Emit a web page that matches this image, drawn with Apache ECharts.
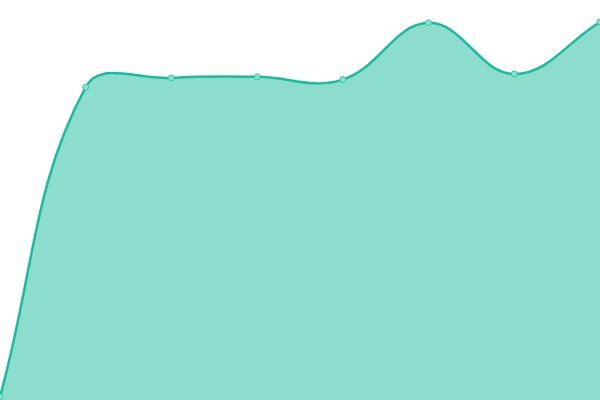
<!DOCTYPE html>
<html>
<head>
<meta charset="utf-8">
<script src="https://cdn.jsdelivr.net/npm/echarts@6/dist/echarts.min.js"></script>
<style>
  html, body { margin: 0; padding: 0; background: #fff; }
  #main { width: 600px; height: 400px; }
</style>
</head>
<body>
<div id="main"></div>
<script>
var categories = ['1', '2', '3', '4', '5', '6', '7', '8'];
var values = [0.8, 78.2, 80.5, 80.8, 80.1, 94.3, 81.5, 94.5];

var lineColor = '#1abc9c';

// spline with tension, control points weighted by neighbouring segment lengths
function splinePath(pts, tension, box) {
  var cps = pts.map(function (p, i) {
    var prev = pts[i - 1] || p, next = pts[i + 1] || p;
    var d01 = Math.hypot(p[0] - prev[0], p[1] - prev[1]);
    var d12 = Math.hypot(next[0] - p[0], next[1] - p[1]);
    var s01 = d01 / (d01 + d12), s12 = d12 / (d01 + d12);
    var fa = tension * s01, fb = tension * s12;
    var vx = next[0] - prev[0], vy = next[1] - prev[1];
    function cap(x, y) {
      return [Math.min(Math.max(x, box[0]), box[2]), Math.min(Math.max(y, box[1]), box[3])];
    }
    return {
      inc: cap(p[0] - fa * vx, p[1] - fa * vy),
      out: cap(p[0] + fb * vx, p[1] + fb * vy)
    };
  });
  var d = 'M' + pts[0][0] + ' ' + pts[0][1];
  for (var i = 1; i < pts.length; i++) {
    var a = cps[i - 1].out, b = cps[i].inc, p = pts[i];
    d += ' C' + a[0] + ' ' + a[1] + ' ' + b[0] + ' ' + b[1] + ' ' + p[0] + ' ' + p[1];
  }
  return d;
}

var chart = echarts.init(document.getElementById('main'));
chart.setOption({
  animation: false,
  grid: { left: 0, right: 0, top: 0, bottom: 0 },
  xAxis: {
    type: 'category',
    boundaryGap: false,
    data: categories,
    show: false
  },
  yAxis: {
    type: 'value',
    min: 0,
    max: 100,
    show: false
  },
  series: [
    {
      type: 'custom',
      data: [0],
      silent: true,
      z: 1,
      renderItem: function (params, api) {
        if (params.dataIndex !== 0) return;
        var pts = values.map(function (v, i) { return api.coord([i, v]); });
        var cs = params.coordSys;
        var box = [cs.x, cs.y, cs.x + cs.width, cs.y + cs.height];
        var base = api.coord([0, 0])[1];
        var curve = splinePath(pts, 0.4, box);
        var last = pts[pts.length - 1];
        var area = curve + ' L' + last[0] + ' ' + base + ' L' + pts[0][0] + ' ' + base + ' Z';
        return {
          type: 'group',
          children: [
            { type: 'path', shape: { pathData: area }, style: { fill: lineColor, opacity: 0.5, stroke: null } },
            { type: 'path', shape: { pathData: curve }, style: { fill: null, stroke: lineColor, lineWidth: 2.5 } }
          ]
        };
      }
    },
    {
      type: 'line',
      data: values,
      z: 3,
      symbol: 'circle',
      symbolSize: 6,
      itemStyle: {
        color: '#8ae0cf',
        borderColor: '#3cc6a8',
        borderWidth: 1
      },
      lineStyle: { width: 0, opacity: 0 }
    }
  ]
});
</script>
</body>
</html>
